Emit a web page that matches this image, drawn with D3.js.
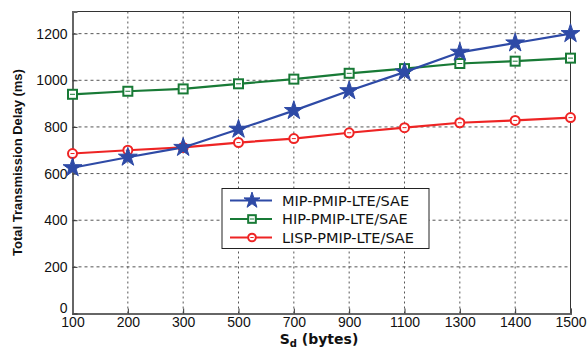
<!DOCTYPE html>
<meta charset="utf-8">
<script src="https://d3js.org/d3.v7.min.js"></script>
<style>
    body { margin: 0; background: #fff; }
    text { font-family: "Liberation Sans", Arial, sans-serif; }
</style>
<div id="chart"></div>
<script>
    // data
    var sizes = ["100", "200", "300", "500", "700", "900", "1100", "1300", "1400", "1500"];
    var mipDelay  = [625, 670, 712, 790, 870, 955, 1035, 1120, 1160, 1200];
    var hipDelay  = [940, 953, 963, 985, 1005, 1030, 1050, 1072, 1082, 1095];
    var lispDelay = [686, 700, 712, 733, 750, 775, 797, 818, 828, 840];
    var yTicks = [0, 200, 400, 600, 800, 1000, 1200];
    var seriesNames = ["MIP-PMIP-LTE/SAE", "HIP-PMIP-LTE/SAE", "LISP-PMIP-LTE/SAE"];

    var W = 588, H = 349;
    var plotLeft = 72.5, plotRight = 570.5, plotTop = 11.5, plotBottom = 313.5;

    var svg = d3.select("#chart").append("svg")
        .attr("width", W).attr("height", H);

    var x = d3.scalePoint().domain(sizes).range([plotLeft, plotRight]);
    var y = d3.scaleLinear().domain([0, 1295]).range([plotBottom, plotTop]);

    // grid
    svg.append("g").selectAll("line").data(yTicks.slice(1)).enter().append("line")
        .attr("x1", plotLeft).attr("x2", plotRight)
        .attr("y1", function (d) { return y(d); }).attr("y2", function (d) { return y(d); })
        .attr("stroke", "#555").attr("stroke-width", 1).attr("stroke-dasharray", "3,3");
    svg.append("g").selectAll("line").data(sizes.slice(1, -1)).enter().append("line")
        .attr("x1", function (d) { return x(d); }).attr("x2", function (d) { return x(d); })
        .attr("y1", plotTop).attr("y2", plotBottom)
        .attr("stroke", "#555").attr("stroke-width", 1).attr("stroke-dasharray", "2,3");

    // frame
    svg.append("line").attr("x1", plotLeft).attr("x2", plotRight).attr("y1", plotTop).attr("y2", plotTop)
        .attr("stroke", "#333").attr("stroke-width", 1);
    svg.append("line").attr("x1", plotRight).attr("x2", plotRight).attr("y1", plotTop).attr("y2", plotBottom)
        .attr("stroke", "#333").attr("stroke-width", 1);

    // axes
    var xAxis = svg.append("g").attr("transform", "translate(0," + plotBottom + ")")
        .call(d3.axisBottom(x).tickSize(-5).tickPadding(4));
    xAxis.select(".domain").attr("stroke", "#666").attr("stroke-width", 2);
    xAxis.selectAll("text").attr("font-size", 14).attr("fill", "#111")
        .attr("font-family", "Liberation Sans, Arial, sans-serif");
    xAxis.selectAll(".tick line").attr("stroke", "#333");

    var yAxis = svg.append("g").attr("transform", "translate(" + plotLeft + ",0)")
        .call(d3.axisLeft(y).tickValues(yTicks).tickFormat(d3.format("d")).tickSize(-5).tickPadding(5));
    yAxis.select(".domain").attr("stroke", "#666").attr("stroke-width", 2);
    yAxis.selectAll("text").attr("font-size", 14).attr("fill", "#111")
        .attr("font-family", "Liberation Sans, Arial, sans-serif");
    yAxis.selectAll(".tick line").attr("stroke", "#333");
    yAxis.selectAll(".tick").filter(function (d) { return d === 0; }).select("text")
        .attr("dy", "-0.05em");

    // series
    var series = [
        { name: seriesNames[0], values: mipDelay, color: "#2e4aa6", marker: "star" },
        { name: seriesNames[1], values: hipDelay, color: "#187a36", marker: "square" },
        { name: seriesNames[2], values: lispDelay, color: "#ee2424", marker: "circle" }
    ];

    var line = d3.line()
        .x(function (d, i) { return x(sizes[i]); })
        .y(function (d) { return y(d); });

    function drawMarker(g, type, color, k) {
        k = k || 1;
        if (type === "star") {
            g.append("path")
                .attr("d", d3.symbol().type(d3.symbolStar).size(110 * k * k)())
                .attr("fill", color).attr("stroke", color).attr("stroke-width", 1);
        } else if (type === "square") {
            g.append("rect").attr("x", -4.5 * k).attr("y", -4.5 * k).attr("width", 9 * k).attr("height", 9 * k)
                .attr("fill", "#fff").attr("stroke", color).attr("stroke-width", 2);
            g.append("line").attr("x1", -2.5 * k).attr("x2", 2.5 * k).attr("y1", 0).attr("y2", 0)
                .attr("stroke", color).attr("stroke-width", 1);
        } else {
            g.append("circle").attr("r", 4.5 * k)
                .attr("fill", "#fff").attr("stroke", color).attr("stroke-width", 2);
            g.append("line").attr("x1", -2 * k).attr("x2", 2 * k).attr("y1", 0).attr("y2", 0)
                .attr("stroke", color).attr("stroke-width", 1);
        }
    }

    // draw lisp first, then hip, then mip on top
    series.slice().reverse().forEach(function (s) {
        svg.append("path").datum(s.values)
            .attr("d", line).attr("fill", "none")
            .attr("stroke", s.color).attr("stroke-width", 2.2);
        s.values.forEach(function (v, i) {
            var g = svg.append("g").attr("transform", "translate(" + x(sizes[i]) + "," + y(v) + ")");
            drawMarker(g, s.marker, s.color);
        });
    });

    // legend
    var lg = svg.append("g").attr("transform", "translate(222,188.5)");
    lg.append("rect").attr("width", 207).attr("height", 60)
        .attr("fill", "#fff").attr("stroke", "#222").attr("stroke-width", 1);
    series.forEach(function (s, i) {
        var cy = 12 + i * 18.5;
        lg.append("line").attr("x1", 8).attr("x2", 50).attr("y1", cy).attr("y2", cy)
            .attr("stroke", s.color).attr("stroke-width", 2.2);
        var g = lg.append("g").attr("transform", "translate(30," + cy + ")");
        drawMarker(g, s.marker, s.color, 0.85);
        lg.append("text").attr("x", 60).attr("y", cy).attr("dy", "0.36em")
            .attr("font-size", 14.5).attr("fill", "#111")
            .style("font-family", "DejaVu Sans, Verdana, sans-serif")
            .text(s.name);
    });

    // axis titles
    svg.append("text")
        .attr("transform", "translate(22," + (plotTop + plotBottom) / 2 + ") rotate(-90)")
        .attr("text-anchor", "middle").attr("font-size", 13).attr("font-weight", "bold")
        .attr("fill", "#111")
        .text("Total Transmission Delay (ms)");

    var xt = svg.append("text")
        .attr("x", 319).attr("y", 344)
        .attr("text-anchor", "middle").attr("font-size", 14).attr("font-weight", "bold")
        .attr("fill", "#111")
        .style("font-family", "DejaVu Sans, Verdana, sans-serif");
    xt.append("tspan").text("S");
    xt.append("tspan").attr("font-size", 10).attr("dy", 3).text("d");
    xt.append("tspan").attr("dy", -3).text(" (bytes)");
</script>
